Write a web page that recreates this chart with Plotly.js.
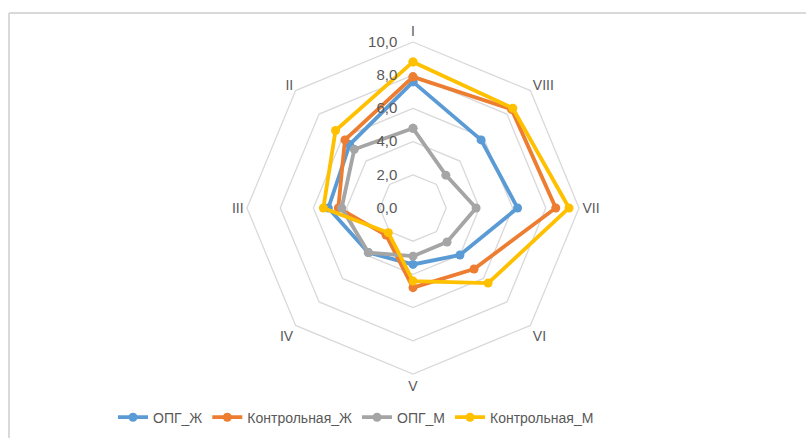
<!DOCTYPE html>
<html>
<head>
<meta charset="utf-8">
<script src="https://cdn.plot.ly/plotly-3.0.1.min.js"></script>
<style>html,body{margin:0;padding:0;background:#fff;}#chart{width:806px;height:438px;}</style>
</head>
<body>
<div id="chart"></div>
<script>
const categories = ["I", "II", "III", "IV", "V", "VI", "VII", "VIII"];
const seriesNames = ["ОПГ_Ж", "Контрольная_Ж", "ОПГ_М", "Контрольная_М"];
const opgZh = [7.6, 5.4, 5.1, 3.8, 3.4, 4.0, 6.3, 5.8];
const kontrZh = [7.9, 5.8, 4.5, 2.3, 4.8, 5.2, 8.6, 8.4];
const opgM = [4.8, 5.0, 4.3, 3.8, 2.9, 2.9, 3.8, 2.8];
const kontrM = [8.8, 6.6, 5.4, 2.1, 4.4, 6.4, 9.4, 8.5];
const radialTicks = [0, 2, 4, 6, 8, 10];

const colors = ["#5B9BD5", "#ED7D31", "#A5A5A5", "#FFC000"];
const allSeries = [opgZh, kontrZh, opgM, kontrM];

const close = a => a.concat([a[0]]);
const traces = allSeries.map((vals, i) => ({
  type: "scatterpolar",
  mode: "lines+markers",
  name: seriesNames[i],
  r: close(vals),
  theta: close(categories),
  line: {color: colors[i], width: 3.8},
  marker: {color: colors[i], size: 9},
  cliponaxis: false
}));

const fam = "Liberation Sans Narrow, Liberation Sans, Arial, sans-serif";
const font = {family: fam, size: 14, color: "#595959"};
const R = 166, cx = 413, cy = 208, W = 806, H = 438;

const layout = {
  width: W, height: H,
  margin: {l: 0, r: 0, t: 0, b: 0},
  paper_bgcolor: "#fff",
  separators: ", ",
  font: font,
  showlegend: true,
  legend: {orientation: "h", x: 356 / W, xanchor: "center", y: 0.01, yanchor: "bottom",
           font: font, itemwidth: 30, tracegroupgap: 0},
  polar: {
    domain: {x: [(cx - R) / W, (cx + R) / W], y: [(H - cy - R) / H, (H - cy + R) / H]},
    gridshape: "linear",
    bgcolor: "rgba(0,0,0,0)",
    radialaxis: {
      range: [0, 10], tickvals: radialTicks, tickformat: ".1f",
      angle: 90, tickangle: 90, side: "counterclockwise",
      showline: false, ticks: "outside", ticklen: 10, tickcolor: "rgba(0,0,0,0)",
      gridcolor: "#d9d9d9", gridwidth: 1.3,
      tickfont: {family: fam, size: 15, color: "#595959"}
    },
    angularaxis: {
      direction: "counterclockwise", rotation: 90,
      showgrid: false, showline: true, linecolor: "#d9d9d9", linewidth: 1.3,
      ticks: "", tickfont: {family: fam, size: 14, color: "#595959"}
    }
  },
  shapes: [
    {type: "line", xref: "paper", yref: "paper", x0: 9 / W, x1: 1, y0: 1 - 13 / H, y1: 1 - 13 / H,
     line: {color: "#d9d9d9", width: 2}},
    {type: "line", xref: "paper", yref: "paper", x0: 9 / W, x1: 9 / W, y0: 0, y1: 1 - 13 / H,
     line: {color: "#d9d9d9", width: 2}}
  ]
};

Plotly.newPlot("chart", traces, layout, {displayModeBar: false, staticPlot: true});
</script>
</body>
</html>
